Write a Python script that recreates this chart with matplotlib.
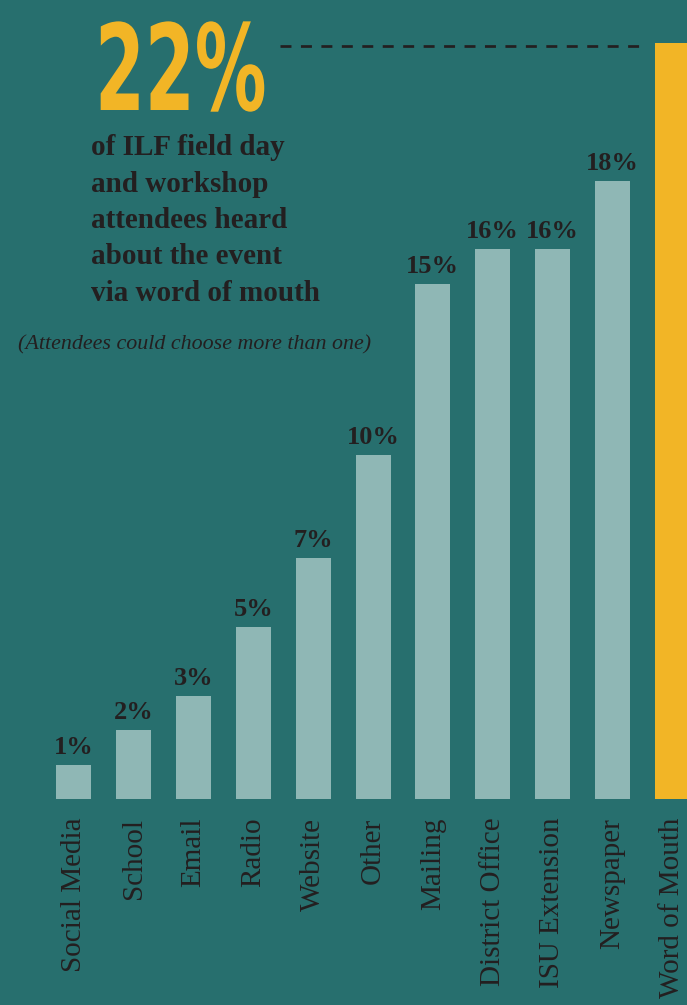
import matplotlib
matplotlib.use("Agg")
import matplotlib.pyplot as plt
from matplotlib.patheffects import AbstractPathEffect
from matplotlib.transforms import Affine2D

categories = ["Social Media", "School", "Email", "Radio", "Website", "Other",
              "Mailing", "District Office", "ISU Extension", "Newspaper", "Word of Mouth"]
values = [1, 2, 3, 5, 7, 10, 15, 16, 16, 18, 22]
value_labels = ["1%", "2%", "3%", "5%", "7%", "10%", "15%", "16%", "16%", "18%", ""]
headline = "22%"
headline_text = ["of ILF field day", "and workshop", "attendees heard",
                 "about the event", "via word of mouth"]
note = "(Attendees could choose more than one)"

BG = "#276f6e"
BAR = "#8fb7b5"
GOLD = "#f2b526"
INK = "#231f20"
SERIF = ["Liberation Serif", "DejaVu Serif"]

W, H = 687, 1005
DPI = 100


class Condense(AbstractPathEffect):
    """Squeeze glyph outlines horizontally about a fixed x (display pixels)."""

    def __init__(self, sx, x0):
        super().__init__()
        self.sx = sx
        self.x0 = x0

    def draw_path(self, renderer, gc, tpath, affine, rgbFace=None):
        squeeze = Affine2D().translate(-self.x0, 0).scale(self.sx, 1).translate(self.x0, 0)
        renderer.draw_path(gc, tpath, affine + squeeze, rgbFace)


fig = plt.figure(figsize=(W / DPI, H / DPI), dpi=DPI, facecolor=BG)
ax = fig.add_axes([0, 0, 1, 1])
ax.set_facecolor(BG)
ax.set_xlim(-1.237, 10.25)
ax.set_ylim(-6.0, 23.26)
ax.axis("off")

x = list(range(len(categories)))
colors = [BAR] * (len(categories) - 1) + [GOLD]
ax.bar(x, values, width=0.585, color=colors, linewidth=0)

for xi, v, lab in zip(x, values, value_labels):
    if lab:
        ax.text(xi, v + 0.32, lab, ha="center", va="baseline", fontsize=19,
                fontweight="bold", color=INK, family=SERIF)

for xi, cat in zip(x, categories):
    ax.text(xi, -0.55, cat, rotation=90, ha="center", va="top", fontsize=21,
            color=INK, family=SERIF)

# dashed leader from the headline figure to the tallest bar
ax.hlines(values[-1] - 0.08, 3.44, 9.46, colors=INK, linestyles=(0, (4.05, 3.5)),
          linewidth=1.95)


def fy(py):
    return 1 - py / H


def fx(px):
    return px / W


fig.text(fx(95), fy(110), headline, ha="left", va="baseline", fontsize=86,
         fontweight="bold", color=GOLD, family="DejaVu Sans",
         path_effects=[Condense(0.6, 95)])

for i, line in enumerate(headline_text):
    fig.text(fx(91), fy(155 + i * 36.5), line, ha="left", va="baseline",
             fontsize=21, fontweight="bold", color=INK, family=SERIF)

fig.text(fx(18), fy(349), note, ha="left", va="baseline", fontsize=15.8,
         fontstyle="italic", color=INK, family=SERIF)

fig.savefig("out.png", dpi=DPI, facecolor=BG)
